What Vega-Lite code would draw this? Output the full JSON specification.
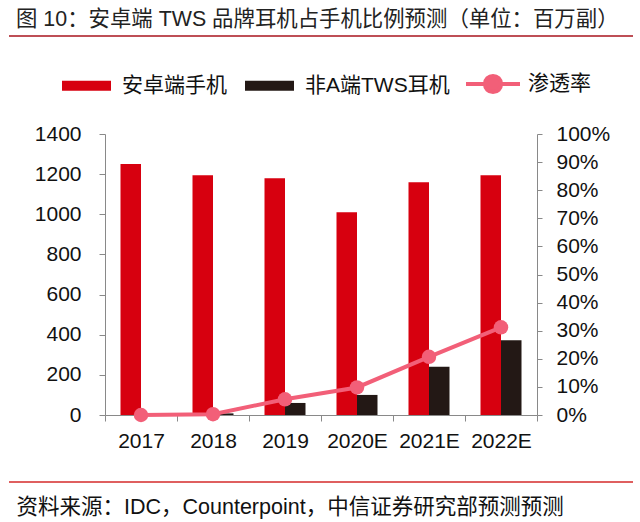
{
  "$schema": "https://vega.github.io/schema/vega-lite/v6.json",
  "width": 624,
  "height": 446,
  "autosize": "none",
  "padding": {"left": 9, "top": 36, "right": 7, "bottom": 40},
  "background": "white",
  "title": {
    "text": "图 10：安卓端 TWS 品牌耳机占手机比例预测（单位：百万副）",
    "anchor": "start",
    "frame": "group",
    "dx": 7,
    "dy": 20,
    "offset": 8,
    "baseline": "alphabetic",
    "font": "Liberation Sans, Noto Sans CJK SC",
    "fontSize": 21.4,
    "fontWeight": "normal",
    "color": "#222222"
  },
  "datasets": {
    "phones": [
      {"year": "2017", "series": "安卓端手机", "value": 1250},
      {"year": "2018", "series": "安卓端手机", "value": 1195},
      {"year": "2019", "series": "安卓端手机", "value": 1180},
      {"year": "2020E", "series": "安卓端手机", "value": 1010},
      {"year": "2021E", "series": "安卓端手机", "value": 1160},
      {"year": "2022E", "series": "安卓端手机", "value": 1195},
      {"year": "2017", "series": "非A端TWS耳机", "value": 1},
      {"year": "2018", "series": "非A端TWS耳机", "value": 8},
      {"year": "2019", "series": "非A端TWS耳机", "value": 60},
      {"year": "2020E", "series": "非A端TWS耳机", "value": 100},
      {"year": "2021E", "series": "非A端TWS耳机", "value": 240},
      {"year": "2022E", "series": "非A端TWS耳机", "value": 372}
    ],
    "penetration": [
      {"year": "2017", "rate": 0.0},
      {"year": "2018", "rate": 0.003},
      {"year": "2019", "rate": 0.056},
      {"year": "2020E", "rate": 0.098},
      {"year": "2021E", "rate": 0.207},
      {"year": "2022E", "rate": 0.312}
    ]
  },
  "encoding": {
    "x": {
      "field": "year",
      "type": "nominal",
      "sort": null,
      "scale": {"range": [96, 528], "paddingInner": 0, "paddingOuter": 0},
      "axis": {
        "orient": "bottom",
        "offset": -67,
        "labelAngle": 0,
        "tickBand": "extent",
        "tickSize": 6,
        "labelPadding": 9,
        "labelFontSize": 21,
        "title": "资料来源：IDC，Counterpoint，中信证券研究部预测预测",
        "titleX": 7,
        "titleY": 92,
        "titleAlign": "left",
        "titleAnchor": null,
        "titleBaseline": "middle",
        "titleFontSize": 21.5,
        "titleFontWeight": "normal",
        "titleColor": "#111111"
      }
    }
  },
  "layer": [
    {
      "data": {"values": [{}]},
      "mark": {"type": "rule", "color": "#a8141e", "strokeWidth": 1.5},
      "encoding": {
        "x": null,
        "y": {"datum": 1, "type": "quantitative", "scale": {"domain": [0, 1]}, "axis": null}
      }
    },
    {
      "data": {"values": [{}]},
      "mark": {"type": "rule", "color": "#d42a2a", "strokeWidth": 1.5},
      "encoding": {
        "x": null,
        "y": {"datum": 0, "type": "quantitative", "scale": {"domain": [0, 1]}, "axis": null}
      }
    },
    {
      "data": {"name": "phones"},
      "mark": {"type": "bar"},
      "encoding": {
        "xOffset": {
          "field": "series",
          "type": "nominal",
          "sort": null,
          "scale": {"paddingInner": 0, "paddingOuter": 0.756}
        },
        "y": {
          "field": "value",
          "type": "quantitative",
          "scale": {"domain": [0, 1400], "range": [379, 98], "nice": false, "zero": true},
          "axis": {
            "orient": "left",
            "offset": -96,
            "values": [0, 200, 400, 600, 800, 1000, 1200, 1400],
            "format": "d",
            "title": null,
            "grid": false,
            "tickSize": 6,
            "labelPadding": 18,
            "labelFontSize": 21
          }
        },
        "color": {
          "field": "series",
          "type": "nominal",
          "scale": {"domain": ["安卓端手机", "非A端TWS耳机"], "range": ["#d7000f", "#231815"]},
          "legend": {
            "orient": "none",
            "direction": "horizontal",
            "legendX": 53,
            "legendY": 25,
            "title": null,
            "symbolType": "M-1,-0.2H1V0.2H-1Z",
            "symbolSize": 2401,
            "symbolStrokeWidth": 0,
            "labelOffset": 11,
            "columnPadding": 18,
            "labelFontSize": 21
          }
        }
      }
    },
    {
      "data": {"name": "penetration"},
      "mark": {"type": "line", "strokeWidth": 4},
      "encoding": {
        "y": {
          "field": "rate",
          "type": "quantitative",
          "scale": {"domain": [0, 1], "range": [379, 98], "nice": false},
          "axis": {
            "orient": "right",
            "offset": -96,
            "values": [0, 0.1, 0.2, 0.3, 0.4, 0.5, 0.6, 0.7, 0.8, 0.9, 1],
            "format": ".0%",
            "title": null,
            "grid": false,
            "tickSize": 5,
            "labelPadding": 14,
            "labelFontSize": 21
          }
        },
        "stroke": {
          "datum": "渗透率",
          "type": "nominal",
          "scale": {"range": ["#f25f78"]},
          "legend": {
            "orient": "none",
            "legendX": 455,
            "legendY": 19,
            "title": null,
            "symbolType": "M-1,0H1M-0.3,0A0.3,0.3,0,1,1,0.3,0A0.3,0.3,0,1,1,-0.3,0Z",
            "symbolSize": 2916,
            "symbolStrokeWidth": 4,
            "labelOffset": 6,
            "labelFontSize": 21,
            "encode": {"symbols": {"update": {"fill": {"value": "#f25f78"}}}}
          }
        }
      }
    },
    {
      "data": {"name": "penetration"},
      "mark": {"type": "point", "shape": "circle", "filled": true, "size": 210, "opacity": 1, "color": "#f25f78"},
      "encoding": {
        "y": {
          "field": "rate",
          "type": "quantitative",
          "scale": {"domain": [0, 1], "range": [379, 98], "nice": false},
          "axis": null
        }
      }
    }
  ],
  "resolve": {
    "scale": {"y": "independent", "color": "independent", "stroke": "independent"},
    "axis": {"y": "independent"}
  },
  "config": {
    "view": {"stroke": null},
    "font": "Liberation Sans, Noto Sans CJK SC",
    "axis": {
      "labelFont": "Liberation Sans, Noto Sans CJK SC",
      "titleFont": "Liberation Sans, Noto Sans CJK SC",
      "labelColor": "#111111",
      "domainColor": "#898989",
      "tickColor": "#898989",
      "domainWidth": 1,
      "tickWidth": 1
    },
    "legend": {
      "labelFont": "Liberation Sans, Noto Sans CJK SC",
      "labelColor": "#111111",
      "padding": 0
    }
  }
}
